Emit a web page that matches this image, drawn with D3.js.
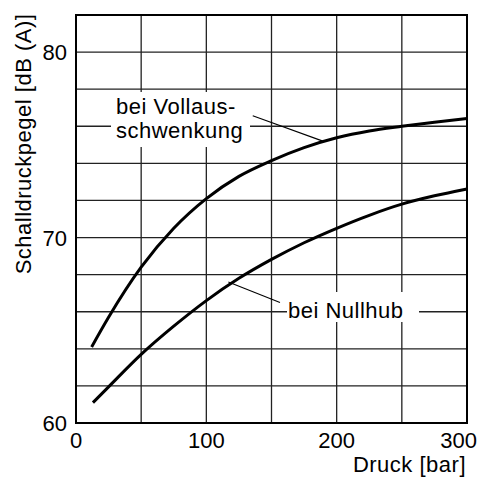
<!DOCTYPE html>
<html><head><meta charset="utf-8">
<script src="https://cdn.jsdelivr.net/npm/d3@7"></script>
<style>
html,body{margin:0;padding:0;background:#fff;}
svg text{font-family:"Liberation Sans",Arial,Helvetica,sans-serif;fill:#000;}
</style></head>
<body>
<svg id="c" width="483" height="477"></svg>
<script>
// Data
const pressure = [12, 25, 50, 75, 100, 125, 150, 175, 200, 225, 250, 275, 300];
const vollausschwenkung = [64.1, 65.7, 68.4, 70.5, 72.1, 73.3, 74.15, 74.85, 75.38, 75.75, 76.0, 76.22, 76.42];
const pressureNull = [13, 25, 50, 75, 100, 125, 150, 175, 200, 225, 250, 275, 300];
const nullhub = [61.1, 61.95, 63.7, 65.22, 66.6, 67.8, 68.82, 69.72, 70.5, 71.2, 71.8, 72.25, 72.62];
const xTicks = [0, 100, 200, 300];
const yTicks = [60, 70, 80];
const xGrid = [50, 100, 150, 200, 250];
const yGrid = [62, 64, 66, 68, 70, 72, 74, 76, 78, 80];
const xTitle = "Druck [bar]";
const yTitle = "Schalldruckpegel [dB (A)]";
const labelVoll = ["bei Vollaus-", "schwenkung"];
const labelNull = "bei Nullhub";

const W = 483, H = 477;
const m = {l: 76, t: 15, r: 16, b: 54};
const FS = 22;
const svg = d3.select("#c");
const x = d3.scaleLinear().domain([0, 300]).range([m.l, W - m.r]);
const y = d3.scaleLinear().domain([60, 82]).range([H - m.b, m.t]);

// grid
const g = svg.append("g");
g.selectAll("line.v").data(xGrid).join("line")
  .attr("x1", d => x(d)).attr("x2", d => x(d))
  .attr("y1", y(60)).attr("y2", y(82))
  .attr("stroke", "#222").attr("stroke-width", 1.3);
g.selectAll("line.h").data(yGrid).join("line")
  .attr("y1", d => y(d)).attr("y2", d => y(d))
  .attr("x1", x(0)).attr("x2", x(300))
  .attr("stroke", "#222").attr("stroke-width", 1.3);

// label backgrounds (white boxes interrupting the grid)
svg.append("rect")
  .attr("x", 111).attr("y", 92).attr("width", 139).attr("height", 55)
  .attr("fill", "#fff");
svg.append("rect")
  .attr("x", 287).attr("y", 292).attr("width", 132).attr("height", 30)
  .attr("fill", "#fff");

// curves
const line = d3.line().x(d => x(d[0])).y(d => y(d[1])).curve(d3.curveMonotoneX);
svg.append("path").datum(pressure.map((p, i) => [p, vollausschwenkung[i]]))
  .attr("d", line).attr("fill", "none").attr("stroke", "#000").attr("stroke-width", 3);
svg.append("path").datum(pressureNull.map((p, i) => [p, nullhub[i]]))
  .attr("d", line).attr("fill", "none").attr("stroke", "#000").attr("stroke-width", 3);

// leader lines
svg.append("line").attr("x1", x(135.6)).attr("y1", y(76.57)).attr("x2", x(189.4)).attr("y2", y(75.2))
  .attr("stroke", "#000").attr("stroke-width", 1.1);
svg.append("line").attr("x1", x(116.9)).attr("y1", y(67.6)).attr("x2", x(156.5)).attr("y2", y(66.5))
  .attr("stroke", "#000").attr("stroke-width", 1.1);

// labels
const lt = svg.append("text").attr("font-size", FS).attr("letter-spacing", 0.5);
lt.append("tspan").attr("x", 116).attr("y", 114).text(labelVoll[0]);
lt.append("tspan").attr("x", 116).attr("y", 138).text(labelVoll[1]);
svg.append("text").attr("x", 288).attr("y", 318).attr("font-size", FS).attr("letter-spacing", 0.5).text(labelNull);

// frame
svg.append("rect").attr("x", x(0)).attr("y", y(82)).attr("width", x(300) - x(0)).attr("height", y(60) - y(82))
  .attr("fill", "none").attr("stroke", "#000").attr("stroke-width", 2);

// tick labels
svg.selectAll("text.xt").data(xTicks).join("text")
  .attr("x", d => d === 300 ? x(d) + 10 : x(d))
  .attr("y", 448).attr("font-size", FS)
  .attr("text-anchor", d => d === 300 ? "end" : "middle").text(d => d);
svg.selectAll("text.yt").data(yTicks).join("text")
  .attr("x", 67).attr("y", d => y(d) + 8).attr("font-size", FS)
  .attr("text-anchor", "end").text(d => d);

// axis titles
svg.append("text").attr("x", x(300) - 1).attr("y", 472).attr("font-size", FS).attr("letter-spacing", 0.5)
  .attr("text-anchor", "end").text(xTitle);
svg.append("text").attr("transform", "translate(31," + 144 + ") rotate(-90)")
  .attr("font-size", FS).attr("letter-spacing", 0.5).attr("text-anchor", "middle").text(yTitle);
</script>
</body></html>
